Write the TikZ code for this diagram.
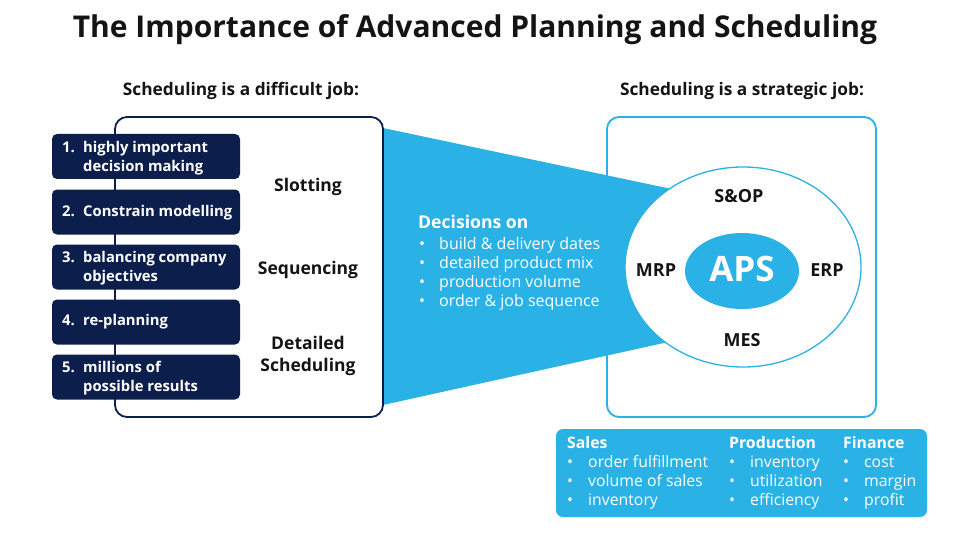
\documentclass[tikz,border=0pt]{standalone}
\usepackage{fontspec}
\setmainfont{Open Sans}
\usetikzlibrary{shapes.geometric}
\definecolor{navy}{HTML}{0C1E4C}
\definecolor{sky}{HTML}{2AB1E5}
\definecolor{ink}{HTML}{141414}
\newcommand{\fs}[2]{\fontsize{#1}{#2}\selectfont}
\begin{document}
\begin{tikzpicture}[x=1pt,y=-1pt,
  txt/.style={inner sep=0pt, text=ink, font=\bfseries\fs{17.3}{19}},
  navybox/.style={fill=navy, rounded corners=5pt, minimum width=188pt, minimum height=45pt, inner sep=0pt},
  navytext/.style={inner sep=0pt, anchor=west, text=white, font=\bfseries\fs{14.8}{19}, align=left},
  ringlabel/.style={inner sep=0pt, text=ink, font=\bfseries\fs{18}{20}},
  whitetext/.style={inner sep=0pt, anchor=north west, text=white, font=\fs{15.8}{19}, align=left}
]
\useasboundingbox (0,0) rectangle (960,540);

% title
\node[inner sep=0pt, text=ink, font=\bfseries\fs{30}{34}] (title) at (475,30) {The Importance of Advanced Planning and Scheduling};
\node[txt] (hleft) at (241,91) {Scheduling is a difficult job:};
\node[txt] (hright) at (742,91) {Scheduling is a strategic job:};

% right box
\node[draw=sky, line width=1.8pt, fill=white, rounded corners=12pt, minimum width=269pt, minimum height=300pt, inner sep=0pt] (rbox) at (741.5,267) {};

% funnel
\fill[sky] (383,128) -- (700,195) -- (700,335) -- (383,405) -- cycle;

% ring
\node[ellipse, draw=sky, line width=1.3pt, fill=white, minimum width=236pt, minimum height=200pt, inner sep=0pt] (ring) at (743,267) {};
\node[ellipse, fill=sky, minimum width=114pt, minimum height=76pt, inner sep=0pt] (aps) at (742,271) {};
\node[inner sep=0pt, text=white, font=\bfseries\fs{35}{38}] (apstext) at (742,269) {APS};
\node[ringlabel] (sop) at (739,196) {S\&OP};
\node[ringlabel] (mrp) at (656,270) {MRP};
\node[ringlabel] (erp) at (827,270) {ERP};
\node[ringlabel] (mes) at (742,340) {MES};

% left box
\node[draw=navy, line width=1.8pt, fill=white, rounded corners=12pt, minimum width=268pt, minimum height=300pt, inner sep=0pt] (lbox) at (249,267) {};

% navy boxes
\node[navybox] (b1) at (146,156.5) {};
\node[navybox] (b2) at (146,212) {};
\node[navybox] (b3) at (146,267) {};
\node[navybox] (b4) at (146,322) {};
\node[navybox] (b5) at (146,377) {};
\node[navytext] (t1) at (62,158) {\begin{tabular}{@{}p{21pt}@{}l@{}}1.&highly important\\&decision making\end{tabular}};
\node[navytext] (t2) at (62,213) {\begin{tabular}{@{}p{21pt}@{}l@{}}2.&Constrain modelling\end{tabular}};
\node[navytext] (t3) at (62,268.5) {\begin{tabular}{@{}p{21pt}@{}l@{}}3.&balancing company\\&objectives\end{tabular}};
\node[navytext] (t4) at (62,322) {\begin{tabular}{@{}p{21pt}@{}l@{}}4.&re-planning\end{tabular}};
\node[navytext] (t5) at (62,378.5) {\begin{tabular}{@{}p{21pt}@{}l@{}}5.&millions of\\&possible results\end{tabular}};

\node[txt, font=\bfseries\fs{17.5}{22}] (slot) at (308,186.5) {Slotting};
\node[txt, font=\bfseries\fs{17.5}{22}] (seq) at (308,269.5) {Sequencing};
\node[txt, font=\bfseries\fs{17.5}{22}, align=center] (det) at (308,355.5) {Detailed\\Scheduling};

% decisions
\node[whitetext, font=\bfseries\fs{17.6}{19}] (dec) at (418,215) {Decisions on};
\node[whitetext, font=\fs{16}{19}] (declist) at (419,236) {\begin{tabular}{@{}p{20pt}@{}l@{}}
\textbullet&build \& delivery dates\\
\textbullet&detailed product mix\\
\textbullet&production volume\\
\textbullet&order \& job sequence\end{tabular}};

% bottom box
\node[fill=sky, rounded corners=7pt, minimum width=371pt, minimum height=88pt, inner sep=0pt] (bbox) at (741.5,473) {};
\node[whitetext] (sales) at (567,435) {\begin{tabular}{@{}p{21pt}@{}l@{}}
\multicolumn{2}{@{}l@{}}{\bfseries Sales}\\
\textbullet&order fulfillment\\
\textbullet&volume of sales\\
\textbullet&inventory\end{tabular}};
\node[whitetext] (prod) at (729,435) {\begin{tabular}{@{}p{21pt}@{}l@{}}
\multicolumn{2}{@{}l@{}}{\bfseries Production}\\
\textbullet&inventory\\
\textbullet&utilization\\
\textbullet&efficiency\end{tabular}};
\node[whitetext] (fin) at (843,435) {\begin{tabular}{@{}p{21pt}@{}l@{}}
\multicolumn{2}{@{}l@{}}{\bfseries Finance}\\
\textbullet&cost\\
\textbullet&margin\\
\textbullet&profit\end{tabular}};
\end{tikzpicture}
\end{document}
